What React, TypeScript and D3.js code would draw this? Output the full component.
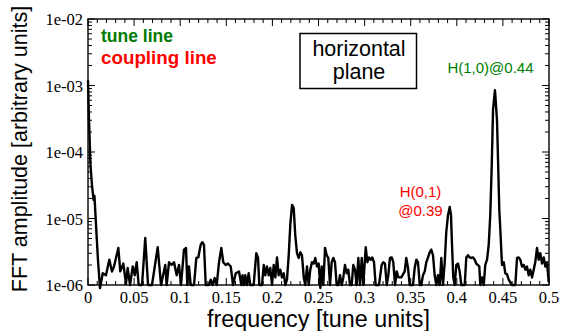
import * as d3 from 'd3';

// ─── Data ───────────────────────────────────────────────────

// frequency [tune units]
const freq = [
  0, 0.0011, 0.0027, 0.0043, 0.006, 0.007, 0.0087, 0.0108, 0.013, 0.016,
  0.0195, 0.0231, 0.026, 0.0282, 0.0329, 0.035, 0.0383, 0.0412, 0.043, 0.0456,
  0.0485, 0.0507, 0.0528, 0.055, 0.0586, 0.0621, 0.0651, 0.0694, 0.0756, 0.0792,
  0.0838, 0.0853, 0.0879, 0.0906, 0.0933, 0.0962, 0.0987, 0.1009, 0.1041, 0.1063,
  0.1077, 0.1095, 0.1114, 0.115, 0.1175, 0.1196, 0.1222, 0.124, 0.1258, 0.1277,
  0.1312, 0.1331, 0.1352, 0.1374, 0.1396, 0.1421, 0.1446, 0.1467, 0.1493, 0.1518,
  0.1548, 0.1573, 0.1602, 0.1638, 0.1663, 0.1676, 0.1692, 0.1706, 0.1725, 0.1743,
  0.176, 0.1797, 0.1825, 0.1844, 0.1858, 0.1887, 0.1906, 0.1923, 0.1941, 0.196,
  0.1977, 0.1996, 0.2014, 0.2032, 0.205, 0.2068, 0.2086, 0.2104, 0.2123, 0.214,
  0.2158, 0.2177, 0.2194, 0.2213, 0.2231, 0.2248, 0.2267, 0.2285, 0.2303, 0.2321,
  0.234, 0.2357, 0.2375, 0.2394, 0.2411, 0.2429, 0.2448, 0.2465, 0.2484, 0.2502,
  0.252, 0.2535, 0.2552, 0.2571, 0.2589, 0.2606, 0.2625, 0.2643, 0.2661, 0.2679,
  0.2697, 0.2715, 0.2733, 0.2752, 0.2769, 0.2787, 0.2806, 0.2823, 0.2842, 0.286,
  0.2877, 0.2896, 0.2914, 0.2932, 0.295, 0.2969, 0.2986, 0.3012, 0.303, 0.3048,
  0.3066, 0.3083, 0.3102, 0.312, 0.3156, 0.3185, 0.3203, 0.3221, 0.324, 0.3257,
  0.3275, 0.3294, 0.3311, 0.333, 0.3348, 0.3366, 0.3398, 0.3435, 0.3452, 0.3471,
  0.3489, 0.3525, 0.3543, 0.3561, 0.3579, 0.3598, 0.3615, 0.3633, 0.3652, 0.3669,
  0.3688, 0.3706, 0.3723, 0.3742, 0.376, 0.3778, 0.3796, 0.3815, 0.3832, 0.385,
  0.3869, 0.3886, 0.3905, 0.3923, 0.3937, 0.3948, 0.3962, 0.3977, 0.3995, 0.4013,
  0.4031, 0.4049, 0.4086, 0.4103, 0.4121, 0.414, 0.4157, 0.4176, 0.4194, 0.4211,
  0.4227, 0.4244, 0.4255, 0.4273, 0.4292, 0.4309, 0.4328, 0.4346, 0.4363, 0.4379,
  0.4393, 0.4414, 0.4436, 0.445, 0.4461, 0.4476, 0.449, 0.4509, 0.4526, 0.4544,
  0.4563, 0.458, 0.4599, 0.4635, 0.4653, 0.4671, 0.4689, 0.4707, 0.4726, 0.4743,
  0.4761, 0.478, 0.4797, 0.4816, 0.4834, 0.4851, 0.487, 0.4888, 0.4906, 0.4924,
  0.4943, 0.496, 0.4978, 0.4997,
];

// FFT amplitude, in units of 1e-6
const ampMicro = [
  1200, 300, 63, 32, 19, 22, 8, 2.4, 0.9, 1.5,
  1.4, 2.4, 1.6, 1.9, 3.6, 1.6, 2.1, 1.05, 1.8, 1.0,
  1.9, 1.4, 2.2, 1.0, 1.0, 5.1, 1.0, 1.0, 3.7, 1.0,
  2.0, 1.0, 2.2, 2.0, 2.2, 1.4, 2.0, 1.0, 3.4, 3.6,
  1.0, 1.9, 1.0, 1.0, 2.55, 2.6, 4.0, 4.4, 4.0, 1.0,
  1.0, 1.2, 1.0, 1.27, 1.0, 2.2, 3.6, 2.2, 2.0, 2.1,
  1.9, 1.0, 1.5, 1.6, 1.0, 1.4, 1.0, 1.4, 1.0, 1.5,
  1.0, 1.0, 3.0, 2.6, 1.0, 1.0, 2.0, 1.4, 1.9, 1.4,
  1.8, 1.0, 2.0, 1.3, 2.6, 1.4, 1.7, 1.3, 1.5, 1.0,
  1.2, 2.8, 8.0, 16, 14.5, 5.6, 3.0, 2.55, 3.1, 2.8,
  1.3, 1.0, 1.9, 1.0, 1.7, 2.2, 2.1, 2.55, 1.9, 2.1,
  0.9, 1.9, 1.0, 3.6, 2.8, 2.55, 1.0, 2.2, 2.55, 2.2,
  1.0, 1.0, 1.4, 1.0, 1.3, 2.0, 1.5, 1.7, 1.0, 1.0,
  2.0, 1.7, 1.0, 2.55, 1.0, 2.55, 1.0, 3.7, 2.2, 2.6,
  2.4, 2.6, 2.2, 1.0, 1.0, 2.0, 2.2, 2.1, 1.0, 1.4,
  2.55, 2.6, 2.2, 1.0, 1.6, 1.3, 1.3, 1.6, 2.55, 1.8,
  1.0, 1.0, 1.8, 2.4, 2.2, 1.0, 1.0, 1.4, 1.6, 2.2,
  2.6, 3.1, 3.4, 2.8, 1.4, 1.0, 1.4, 1.0, 2.55, 1.0,
  2.2, 6.3, 11.3, 14.9, 11.3, 4.0, 1.3, 1.0, 2.0, 2.1,
  1.6, 1.0, 1.0, 2.6, 2.8, 2.6, 2.55, 2.6, 2.4, 2.1,
  2.0, 1.9, 1.0, 1.3, 1.0, 2.0, 2.4, 4.0, 11.3, 63,
  430, 850, 300, 54, 13.4, 5.3, 2.0, 2.2, 1.5, 1.46,
  1.2, 1.1, 1.0, 1.0, 2.55, 2.6, 2.4, 1.9, 2.0, 1.7,
  1.9, 1.4, 1.7, 1.3, 1.7, 2.2, 3.6, 2.4, 3.0, 2.1,
  2.6, 1.9, 2.2, 1.1,
];

const xMajorTicks = [0, 0.05, 0.1, 0.15, 0.2, 0.25, 0.3, 0.35, 0.4, 0.45, 0.5];
const xTickLabels = ['0', '0.05', '0.1', '0.15', '0.2', '0.25', '0.3', '0.35', '0.4', '0.45', '0.5'];
const yMajorTicks = [1e-6, 1e-5, 1e-4, 1e-3, 1e-2];
const yTickLabels = ['1e-06', '1e-05', '1e-04', '1e-03', '1e-02'];

// ─── Component ──────────────────────────────────────────────

const SERIF = '"Liberation Serif", "DejaVu Serif", serif';
const SANS = '"Liberation Sans", Arial, sans-serif';

export default function App() {
  const W = 563;
  const H = 331;
  const margin = { left: 88, right: 14, top: 19, bottom: 46 };
  const x0 = margin.left;
  const x1 = W - margin.right;
  const y0 = margin.top;
  const y1 = H - margin.bottom;

  const x = d3.scaleLinear().domain([0, 0.5]).range([x0, x1]);
  const y = d3.scaleLog().domain([1e-6, 1e-2]).range([y1, y0]);

  const pts: [number, number][] = freq.map((f, i) => [f, ampMicro[i] * 1e-6]);
  const line = d3.line<[number, number]>()
    .x((d) => x(d[0]))
    .y((d) => y(d[1]));

  const xMinor = d3.range(0, 51).map((i) => i / 100).filter((v) => Math.round(v * 100) % 5 !== 0);
  const yMinor: number[] = [];
  for (let e = -6; e < -2; e++) {
    for (let m = 2; m <= 9; m++) yMinor.push(m * Math.pow(10, e));
  }

  const majorLen = 7;
  const minorLen = 4;

  return (
    <svg width={W} height={H} style={{ position: 'absolute', left: 0, top: 0, background: '#fff' }}>
      {/* Trace */}
      <path d={line(pts) ?? ''} fill="none" stroke="#000" strokeWidth={2.4} strokeLinejoin="round" />

      {/* Frame */}
      <rect x={x0} y={y0} width={x1 - x0} height={y1 - y0} fill="none" stroke="#000" strokeWidth={1.4} />

      {/* X ticks (bottom & top, inward) */}
      {xMajorTicks.map((t) => (
        <g key={`xM${t}`}>
          <line x1={x(t)} x2={x(t)} y1={y1} y2={y1 - majorLen} stroke="#000" strokeWidth={1} />
          <line x1={x(t)} x2={x(t)} y1={y0} y2={y0 + majorLen} stroke="#000" strokeWidth={1} />
        </g>
      ))}
      {xMinor.map((t) => (
        <g key={`xm${t}`}>
          <line x1={x(t)} x2={x(t)} y1={y1} y2={y1 - minorLen} stroke="#000" strokeWidth={1} />
          <line x1={x(t)} x2={x(t)} y1={y0} y2={y0 + minorLen} stroke="#000" strokeWidth={1} />
        </g>
      ))}

      {/* Y ticks (left & right, inward) */}
      {yMajorTicks.map((t) => (
        <g key={`yM${t}`}>
          <line x1={x0} x2={x0 + majorLen} y1={y(t)} y2={y(t)} stroke="#000" strokeWidth={1} />
          <line x1={x1} x2={x1 - majorLen} y1={y(t)} y2={y(t)} stroke="#000" strokeWidth={1} />
        </g>
      ))}
      {yMinor.map((t) => (
        <g key={`ym${t}`}>
          <line x1={x0} x2={x0 + minorLen} y1={y(t)} y2={y(t)} stroke="#000" strokeWidth={1} />
          <line x1={x1} x2={x1 - minorLen} y1={y(t)} y2={y(t)} stroke="#000" strokeWidth={1} />
        </g>
      ))}

      {/* Tick labels */}
      {xMajorTicks.map((t, i) => (
        <text key={`xl${t}`} x={x(t)} y={y1 + 18} textAnchor="middle"
          fontFamily={SERIF} fontSize={16.5} fill="#000">{xTickLabels[i]}</text>
      ))}
      {yMajorTicks.map((t, i) => (
        <text key={`yl${t}`} x={x0 - 5} y={y(t) + 6} textAnchor="end"
          fontFamily={SERIF} fontSize={16.5} fill="#000">{yTickLabels[i]}</text>
      ))}

      {/* Axis titles */}
      <text x={(x0 + x1) / 2} y={327} textAnchor="middle" fontFamily={SANS} fontSize={23.3} fill="#000">
        frequency [tune units]
      </text>
      <text transform={`translate(27,${(y0 + y1) / 2 - 3}) rotate(-90)`} textAnchor="middle"
        fontFamily={SANS} fontSize={21.5} fill="#000">
        FFT amplitude [arbitrary units]
      </text>

      {/* Legend */}
      <text x={101} y={41.5} fontFamily={SANS} fontSize={17.5} fontWeight="bold" fill="#007a00">tune line</text>
      <text x={101} y={64} fontFamily={SANS} fontSize={18.8} fontWeight="bold" fill="#ff0000">coupling line</text>

      {/* Plane box */}
      <rect x={300} y={33.5} width={116.5} height={55} fill="#fff" stroke="#000" strokeWidth={1.5} />
      <text x={359} y={56} textAnchor="middle" fontFamily={SANS} fontSize={21.5} fill="#000">horizontal</text>
      <text x={359} y={79} textAnchor="middle" fontFamily={SANS} fontSize={21.5} fill="#000">plane</text>

      {/* Line annotations */}
      <text x={490.5} y={72.5} textAnchor="middle" fontFamily={SANS} fontSize={15} fill="#008000">H(1,0)@0.44</text>
      <text x={420.5} y={197} textAnchor="middle" fontFamily={SANS} fontSize={15} fill="#ff0000">H(0,1)</text>
      <text x={420.5} y={216} textAnchor="middle" fontFamily={SANS} fontSize={15} fill="#ff0000">@0.39</text>
    </svg>
  );
}
